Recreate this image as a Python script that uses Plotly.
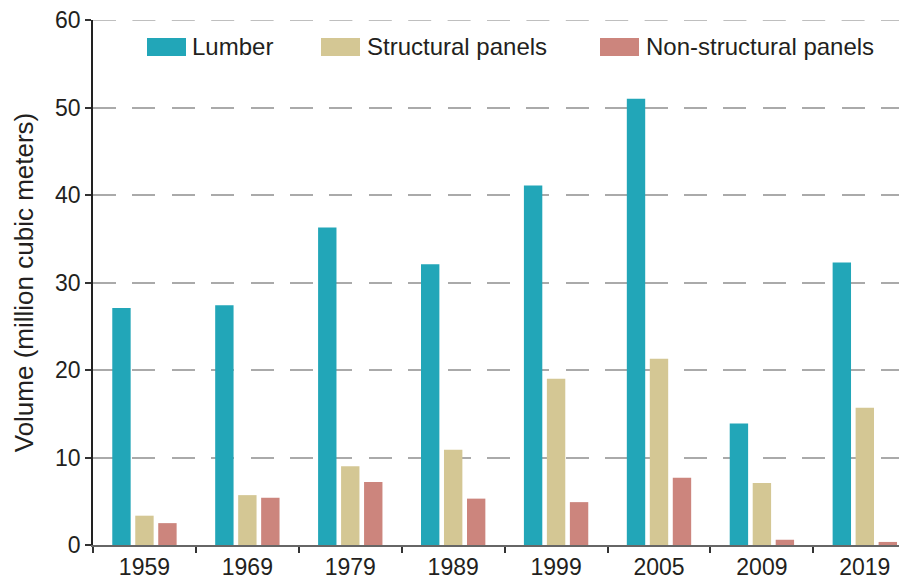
import plotly.graph_objects as go

years = ["1959", "1969", "1979", "1989", "1999", "2005", "2009", "2019"]
lumber = [27.1, 27.4, 36.3, 32.1, 41.1, 51.0, 13.9, 32.3]
structural = [3.35, 5.7, 9.0, 10.9, 19.0, 21.3, 7.1, 15.7]
non_structural = [2.5, 5.4, 7.2, 5.3, 4.9, 7.7, 0.6, 0.35]

series = [
    ("Lumber", lumber, "#22a6b8"),
    ("Structural panels", structural, "#d4c794"),
    ("Non-structural panels", non_structural, "#cc857d"),
]

# the page body has an 8px margin, so the figure is 8px smaller and starts at (8, 8)
OFF = 8
W, H = 907 - OFF, 580 - OFF
L, R, T, B = 93 - OFF, 0, 20 - OFF, 35
FONT = "Liberation Sans, Arial, Helvetica, sans-serif"
TXT = "#231f20"
GRID = "#aaaaaa"
DASH = "23px,16.4px"


# screen pixel -> paper coords
def px_x(x):
    return (x - OFF - L) / (W - L - R)


def px_y(y):
    return (H - B - (y - OFF)) / (H - T - B)


fig = go.Figure()
for name, vals, color in series:
    fig.add_trace(go.Bar(x=years, y=vals, name=name, marker_color=color,
                         marker_line_width=0, showlegend=False))

# hand-drawn legend: wide swatches like the original
legend_pos = [(147, 190), (321, 365), (600, 644)]
for (name, _, color), (sx, tx) in zip(series, legend_pos):
    fig.add_shape(type="rect", xref="paper", yref="paper",
                  x0=px_x(sx), x1=px_x(sx + 39), y0=px_y(56), y1=px_y(38),
                  fillcolor=color, line_width=0)
    fig.add_annotation(text=name, xref="paper", yref="paper",
                       x=px_x(tx), y=px_y(47), xanchor="left", yanchor="middle",
                       showarrow=False, font=dict(size=24, color=TXT))

# plotly skips the grid line sitting on the top edge, draw it by hand
fig.add_shape(type="line", xref="paper", yref="y", x0=0, x1=1, y0=60, y1=60,
              line=dict(color=GRID, width=1.5, dash=DASH), layer="below")

fig.update_layout(
    width=W, height=H,
    margin=dict(l=L, r=R, t=T, b=B),
    paper_bgcolor="white", plot_bgcolor="white",
    font=dict(family=FONT, size=23, color=TXT),
    barmode="group", bargap=0.33, bargroupgap=0.2,
)
fig.update_xaxes(
    type="category", range=[-0.5, 7.41], automargin=False,
    showline=True, linecolor="#666666", linewidth=2,
    ticks="outside", tickson="boundaries", ticklen=6, tickwidth=1.5, tickcolor="#333333",
    showgrid=False, tickfont=dict(size=23, color=TXT),
)
fig.update_yaxes(
    range=[0, 60], dtick=10, automargin=False, ticklabeloverflow="allow",
    showline=True, linecolor="#222222", linewidth=1.5,
    ticks="outside", ticklen=6, tickwidth=1.5, tickcolor="#333333",
    showgrid=True, gridcolor=GRID, gridwidth=1.5, griddash=DASH,
    zeroline=False, tickfont=dict(size=23, color=TXT),
    title=dict(text="Volume (million cubic meters)", font=dict(size=26, color=TXT), standoff=14),
)

fig.write_html("out.html")
